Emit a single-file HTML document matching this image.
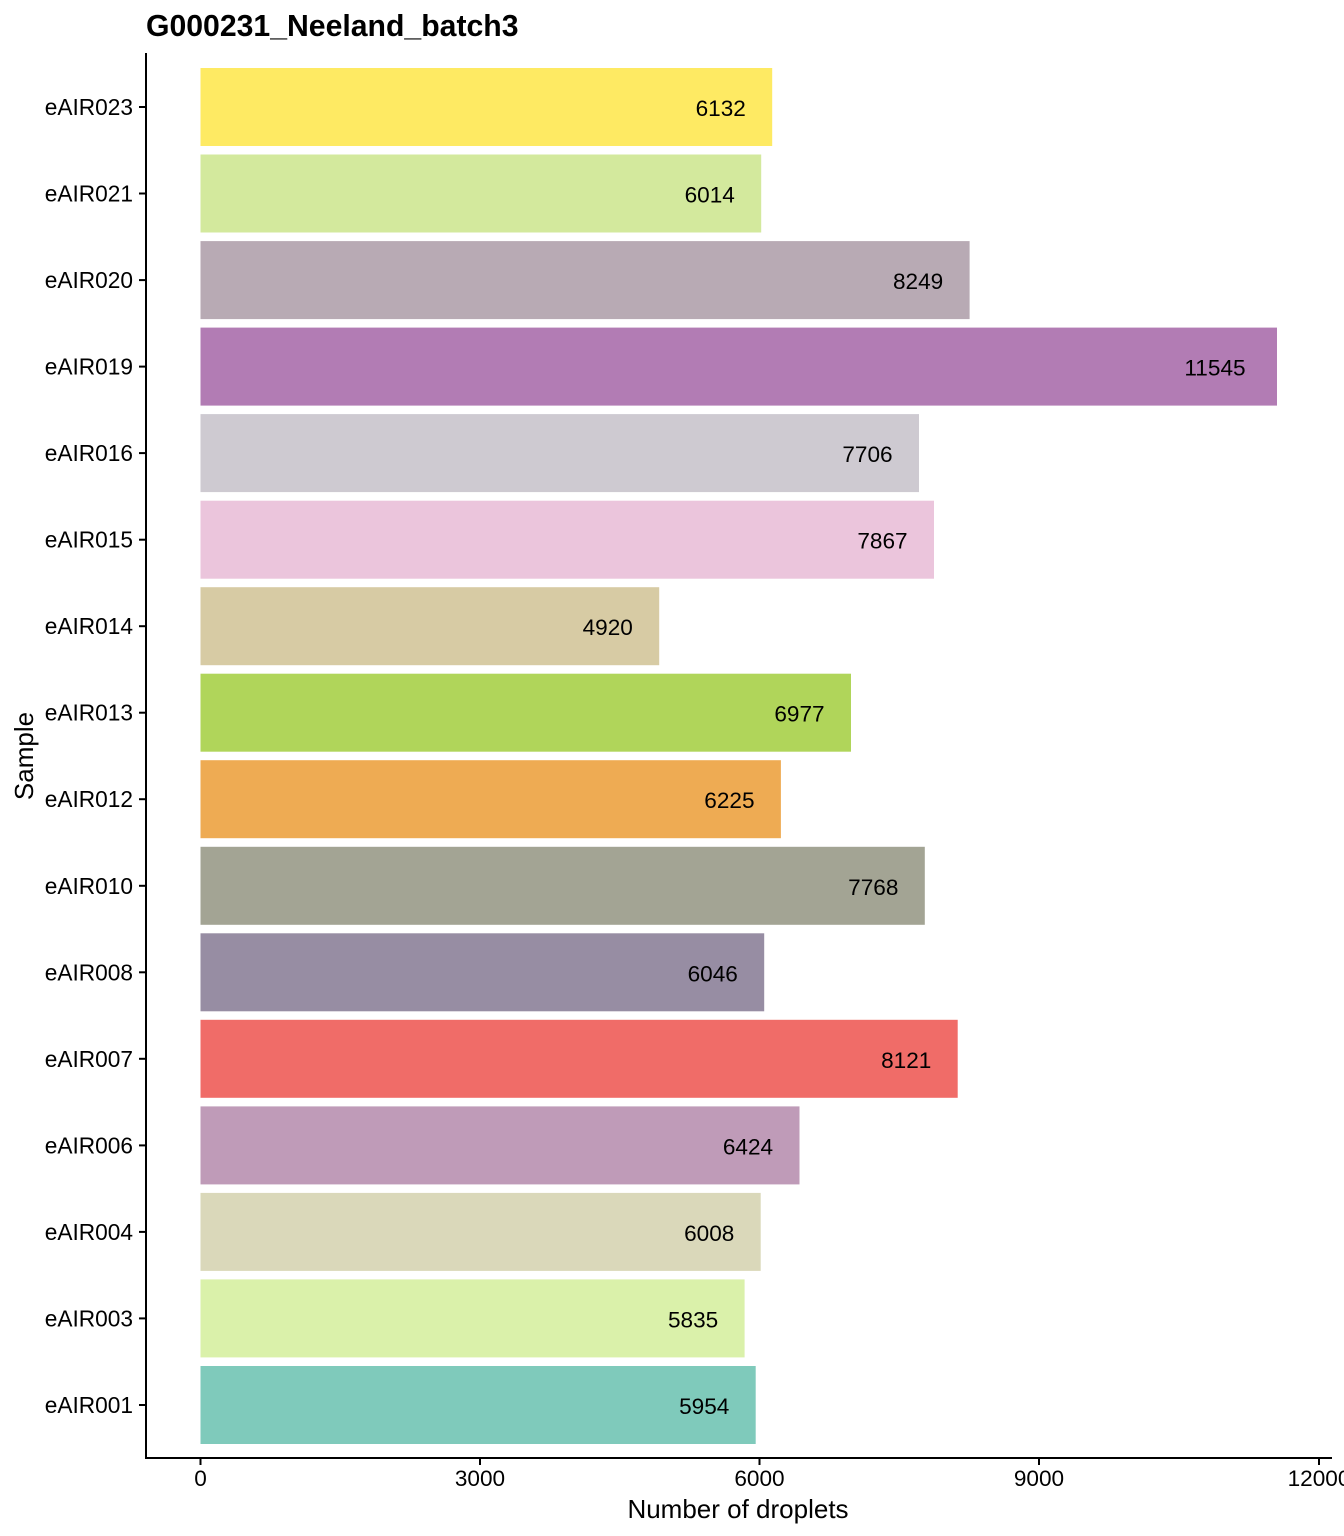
<!DOCTYPE html>
<html><head><meta charset="utf-8"><style>body{margin:0;background:#fff}svg{display:block}text{font-family:"Liberation Sans",Arial,sans-serif}</style></head><body>
<svg width="1344" height="1536" viewBox="0 0 1344 1536" xmlns="http://www.w3.org/2000/svg">
<text x="146" y="36" font-size="30.2" font-weight="bold">G000231_Neeland_batch3</text>
<g font-size="22.6">
<rect x="200.5" y="68" width="571.7" height="78" fill="#FEEA63"/><text x="720.7" y="116" text-anchor="middle">6132</text>
<rect x="200.5" y="154.5" width="560.7" height="78" fill="#D3E99D"/><text x="709.7" y="202.5" text-anchor="middle">6014</text>
<rect x="200.5" y="241.1" width="769.1" height="78" fill="#B8AAB4"/><text x="918.1" y="289.1" text-anchor="middle">8249</text>
<rect x="200.5" y="327.6" width="1076.5" height="78" fill="#B27CB4"/><text x="1215" y="375.6" text-anchor="middle">11545</text>
<rect x="200.5" y="414.1" width="718.5" height="78" fill="#CECAD1"/><text x="867.5" y="462.1" text-anchor="middle">7706</text>
<rect x="200.5" y="500.7" width="733.5" height="78" fill="#EBC5DC"/><text x="882.5" y="548.7" text-anchor="middle">7867</text>
<rect x="200.5" y="587.2" width="458.7" height="78" fill="#D7CBA4"/><text x="607.7" y="635.2" text-anchor="middle">4920</text>
<rect x="200.5" y="673.7" width="650.5" height="78" fill="#B0D55A"/><text x="799.5" y="721.7" text-anchor="middle">6977</text>
<rect x="200.5" y="760.2" width="580.4" height="78" fill="#EEAB53"/><text x="729.4" y="808.2" text-anchor="middle">6225</text>
<rect x="200.5" y="846.8" width="724.3" height="78" fill="#A3A494"/><text x="873.3" y="894.8" text-anchor="middle">7768</text>
<rect x="200.5" y="933.3" width="563.7" height="78" fill="#978DA3"/><text x="712.7" y="981.3" text-anchor="middle">6046</text>
<rect x="200.5" y="1019.8" width="757.2" height="78" fill="#F06C68"/><text x="906.2" y="1067.8" text-anchor="middle">8121</text>
<rect x="200.5" y="1106.4" width="599" height="78" fill="#BF9BB8"/><text x="748" y="1154.4" text-anchor="middle">6424</text>
<rect x="200.5" y="1192.9" width="560.2" height="78" fill="#DAD8BA"/><text x="709.2" y="1240.9" text-anchor="middle">6008</text>
<rect x="200.5" y="1279.4" width="544.1" height="78" fill="#DAF1AA"/><text x="693.1" y="1327.4" text-anchor="middle">5835</text>
<rect x="200.5" y="1366" width="555.2" height="78" fill="#7FCABB"/><text x="704.2" y="1414" text-anchor="middle">5954</text>
</g>
<g font-size="22.7" text-anchor="end">
<text x="133" y="115">eAIR023</text>
<text x="133" y="201.5">eAIR021</text>
<text x="133" y="288.1">eAIR020</text>
<text x="133" y="374.6">eAIR019</text>
<text x="133" y="461.1">eAIR016</text>
<text x="133" y="547.7">eAIR015</text>
<text x="133" y="634.2">eAIR014</text>
<text x="133" y="720.7">eAIR013</text>
<text x="133" y="807.2">eAIR012</text>
<text x="133" y="893.8">eAIR010</text>
<text x="133" y="980.3">eAIR008</text>
<text x="133" y="1066.8">eAIR007</text>
<text x="133" y="1153.4">eAIR006</text>
<text x="133" y="1239.9">eAIR004</text>
<text x="133" y="1326.4">eAIR003</text>
<text x="133" y="1413">eAIR001</text>
</g>
<g stroke="#000" stroke-width="2">
<line x1="139" y1="107" x2="146" y2="107"/><line x1="139" y1="193.5" x2="146" y2="193.5"/><line x1="139" y1="280.1" x2="146" y2="280.1"/><line x1="139" y1="366.6" x2="146" y2="366.6"/><line x1="139" y1="453.1" x2="146" y2="453.1"/><line x1="139" y1="539.7" x2="146" y2="539.7"/><line x1="139" y1="626.2" x2="146" y2="626.2"/><line x1="139" y1="712.7" x2="146" y2="712.7"/><line x1="139" y1="799.2" x2="146" y2="799.2"/><line x1="139" y1="885.8" x2="146" y2="885.8"/><line x1="139" y1="972.3" x2="146" y2="972.3"/><line x1="139" y1="1058.8" x2="146" y2="1058.8"/><line x1="139" y1="1145.4" x2="146" y2="1145.4"/><line x1="139" y1="1231.9" x2="146" y2="1231.9"/><line x1="139" y1="1318.4" x2="146" y2="1318.4"/><line x1="139" y1="1405" x2="146" y2="1405"/>
<line x1="146" y1="53" x2="146" y2="1459"/>
<line x1="145" y1="1458" x2="1332" y2="1458"/>
<line x1="200.5" y1="1458" x2="200.5" y2="1465"/><line x1="480" y1="1458" x2="480" y2="1465"/><line x1="759.5" y1="1458" x2="759.5" y2="1465"/><line x1="1039" y1="1458" x2="1039" y2="1465"/><line x1="1319" y1="1458" x2="1319" y2="1465"/>
</g>
<g font-size="22.6" text-anchor="middle">
<text x="200.5" y="1486">0</text><text x="480" y="1486">3000</text><text x="759.5" y="1486">6000</text><text x="1039" y="1486">9000</text><text x="1319" y="1486">12000</text>
</g>
<text x="738" y="1518" font-size="26" text-anchor="middle">Number of droplets</text>
<text transform="translate(33,756) rotate(-90)" font-size="26" text-anchor="middle">Sample</text>
</svg>
</body></html>
